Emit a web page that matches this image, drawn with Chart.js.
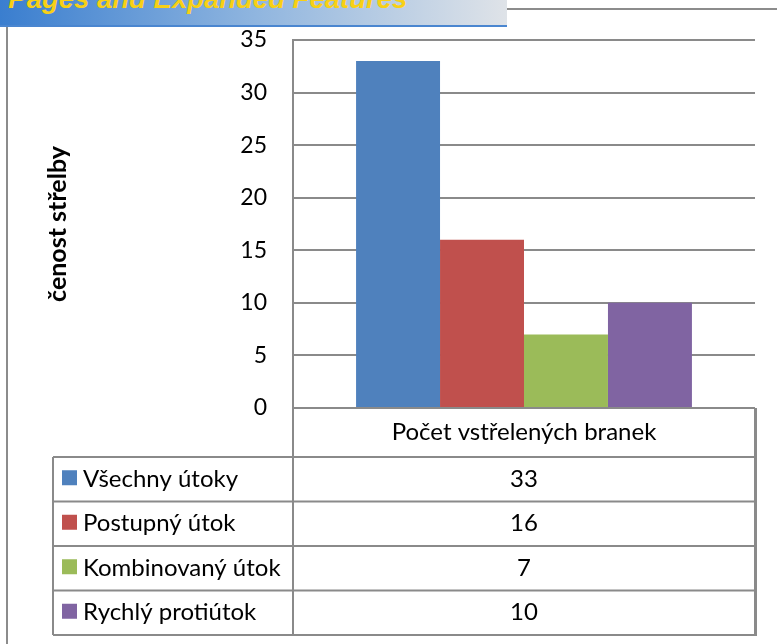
<!DOCTYPE html>
<html>
<head>
<meta charset="utf-8">
<script src="https://cdn.jsdelivr.net/npm/chart.js@4.4.1/dist/chart.umd.min.js"></script>
<style>
  html, body { margin: 0; padding: 0; background: #fff; }
  #wrap { position: relative; width: 777px; height: 644px; overflow: hidden; }
  #frame { position: absolute; left: 6px; top: 8px; width: 900px; height: 900px;
           border-top: 2px solid #8c8c8c; border-left: 2px solid #8c8c8c; }
  #banner { position: absolute; left: 0; top: 0; width: 507px; height: 25px;
            background: linear-gradient(to right, #3a7ecf 0%, #8fb5df 50%, #dfe3e8 100%);
            border-bottom: 2px solid #4a86d0; overflow: hidden; }
  #banner span { position: absolute; left: -10px; top: -15px; white-space: nowrap;
                 font: italic bold 27.5px "Liberation Sans", Arial, sans-serif; line-height: 1;
                 color: #f8d015; }
  canvas { position: absolute; left: 0; top: 0; }
</style>
</head>
<body>
<div id="wrap">
  <div id="frame"></div>
  <canvas id="myChart" width="777" height="644"></canvas>
  <div id="banner"><span>r Pages and Expanded Features</span></div>
</div>
<script>
var categories = ['Počet vstřelených branek'];
var seriesNames = ['Všechny útoky', 'Postupný útok', 'Kombinovaný útok', 'Rychlý protiútok'];
var seriesValues = [33, 16, 7, 10];
var seriesColors = ['#4f81bd', '#c0504d', '#9bbb59', '#8064a2'];
var yTitle = 'čenost střelby';
var yMin = 0, yMax = 35, yStep = 5;

var lineColor = '#8a8a8a';
var fontFamily = 'Lato, "Noto Sans", sans-serif';

// data table under the plot, with legend keys
var dataTable = {
  id: 'dataTable',
  afterDraw: function (chart) {
    var c = chart.ctx, a = chart.chartArea;
    var keyLeft = 53, headH = 49, rowH = 44.5;
    var top = a.bottom, rowsTop = top + headH;
    var bottom = rowsTop + rowH * seriesNames.length;
    c.save();
    c.strokeStyle = lineColor;
    c.lineWidth = 2;
    c.beginPath();
    c.moveTo(a.left, top); c.lineTo(a.left, bottom);
    c.moveTo(keyLeft, rowsTop); c.lineTo(keyLeft, bottom);
    for (var i = 0; i <= seriesNames.length; i++) {
      var y = rowsTop + rowH * i;
      c.moveTo(keyLeft, y); c.lineTo(a.right, y);
    }
    c.stroke();
    c.lineWidth = 3;
    c.beginPath();
    c.moveTo(a.right + 0.5, top); c.lineTo(a.right + 0.5, bottom + 1);
    c.stroke();

    c.fillStyle = '#000';
    c.font = '24px ' + fontFamily;
    c.textBaseline = 'middle';
    c.textAlign = 'center';
    var mid = (a.left + a.right) / 2;
    c.fillText(chart.data.labels[0], mid, top + headH / 2);
    chart.data.datasets.forEach(function (ds, i) {
      var cy = rowsTop + rowH * i + rowH / 2;
      c.fillStyle = ds.backgroundColor;
      c.fillRect(62, cy - 9, 15, 15);
      c.fillStyle = '#000';
      c.textAlign = 'left';
      c.fillText(ds.label, 83, cy);
      c.textAlign = 'center';
      c.fillText(String(ds.data[0]), mid, cy);
    });
    c.restore();
  }
};

var ctx = document.getElementById('myChart');
var myChart = new Chart(ctx, {
  type: 'bar',
  data: {
    labels: categories,
    datasets: seriesNames.map(function (name, i) {
      return {
        label: name,
        data: [seriesValues[i]],
        backgroundColor: seriesColors[i],
        borderWidth: 0
      };
    })
  },
  options: {
    responsive: false,
    animation: false,
    categoryPercentage: 0.727,
    barPercentage: 1,
    layout: { padding: { left: 0, top: 40, right: 22, bottom: 236 } },
    plugins: { legend: { display: false }, tooltip: { enabled: false } },
    scales: {
      x: { display: false },
      y: {
        min: yMin, max: yMax,
        afterFit: function (scale) { scale.width = 293; },
        ticks: { stepSize: yStep, padding: 26, color: '#000', font: { family: fontFamily, size: 23 } },
        grid: { color: lineColor, lineWidth: 2, drawTicks: false },
        border: { color: lineColor, width: 2 },
        title: {
          display: true, text: yTitle, color: '#000',
          font: { family: fontFamily, size: 25, weight: 'bold' },
          padding: { top: 43, bottom: 0 }
        }
      }
    }
  },
  plugins: [dataTable]
});
</script>
</body>
</html>
